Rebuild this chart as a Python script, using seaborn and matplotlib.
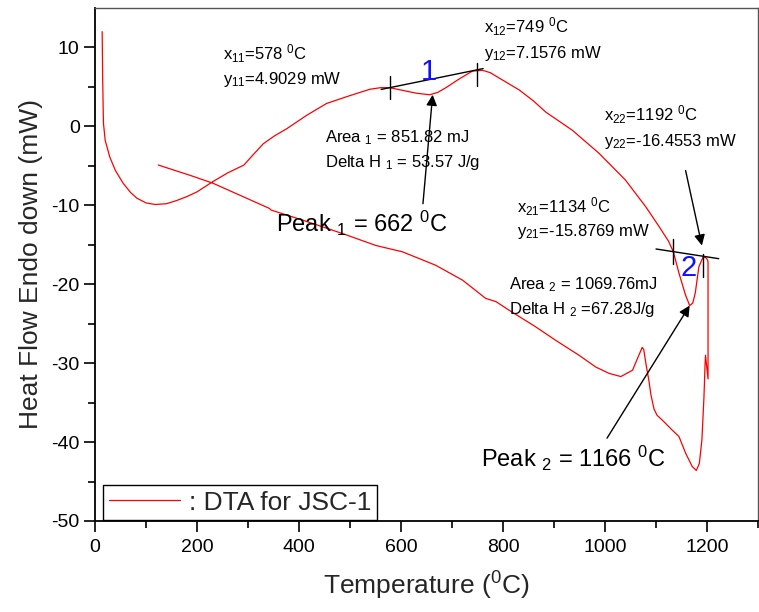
import matplotlib
matplotlib.use("Agg")
import matplotlib.pyplot as plt
import pandas as pd
import seaborn as sns

# Heating run: temperature (degC) and heat flow (mW)
heat_temp = [14, 15, 16.5, 20, 29, 40, 55, 70, 82, 100, 118, 140, 160, 180,
             200, 231, 260, 292, 310, 330, 352, 376, 415, 454, 500, 539, 560,
             578, 600, 630, 656, 672, 688, 714, 740, 760, 775, 793, 832, 860,
             884, 936, 988, 1040, 1080, 1106, 1125, 1134, 1145, 1158, 1166,
             1172, 1177, 1184, 1192, 1197, 1201, 1202, 1202]
heat_flow = [12.0, 6.0, 0.4, -1.8, -3.9, -5.6, -7.2, -8.4, -9.1, -9.7, -9.9,
             -9.8, -9.4, -8.9, -8.3, -7.0, -5.9, -4.9, -3.6, -2.2, -1.2, -0.3,
             1.4, 2.9, 3.9, 4.7, 4.9, 4.9, 4.6, 4.2, 4.0, 4.3, 4.9, 6.0, 7.0,
             7.1, 6.8, 6.1, 4.6, 3.2, 1.8, -0.5, -3.4, -6.8, -10.2, -12.7,
             -14.6, -15.9, -18.6, -21.4, -22.7, -22.4, -21.1, -17.8, -16.6,
             -16.6, -16.9, -17.2, -32.0]

# Cooling run back from the hold
cool_temp = [1197, 1196, 1194, 1190, 1185, 1179, 1171, 1158, 1145, 1132,
             1112, 1102, 1096, 1090, 1086, 1080, 1076, 1073, 1069, 1063, 1054,
             1031, 1008, 982, 949, 903, 864, 812, 786, 766, 721, 668, 603, 551,
             486, 408, 345, 342, 290, 231, 186, 124]
cool_flow = [-29.0, -30.5, -34.3, -39.7, -42.7, -43.6, -43.1, -41.4, -39.3,
             -38.5, -37.2, -36.6, -35.8, -34.0, -32.2, -30.0, -28.3, -28.0,
             -28.6, -29.5, -30.9, -31.7, -31.3, -30.5, -29.0, -27.1, -25.4,
             -23.3, -22.2, -21.8, -19.5, -17.6, -15.9, -15.1, -13.6, -11.9,
             -10.6, -10.4, -8.9, -7.2, -6.2, -4.9]

# Baseline construction points for the two events
onset_1 = (578, 4.9029)
end_1 = (749, 7.1576)
onset_2 = (1134, -15.8769)
end_2 = (1192, -16.4553)
peak_1 = (662, 4.0)
peak_2 = (1166, -22.7)

x_ticks = [0, 200, 400, 600, 800, 1000, 1200]
y_ticks = [-50, -40, -30, -20, -10, 0, 10]

sns.set_theme(style="ticks")
plt.rcParams.update({
    "font.family": ["Liberation Sans", "DejaVu Sans"],
    "mathtext.fontset": "custom",
    "mathtext.rm": "Liberation Sans",
    "mathtext.it": "Liberation Sans:italic",
    "mathtext.bf": "Liberation Sans:bold",
    "mathtext.default": "regular",
    "axes.unicode_minus": False,
})

df = pd.DataFrame({
    "Temperature": heat_temp + cool_temp,
    "HeatFlow": heat_flow + cool_flow,
})

fig = plt.figure(figsize=(7.59, 6.12), dpi=100)
ax = fig.add_axes([0.1252, 0.1487, 0.8735, 0.8383])

sns.lineplot(data=df, x="Temperature", y="HeatFlow", sort=False,
             estimator=None, color="red", lw=0.9, ax=ax,
             label=": DTA for JSC-1")

ax.set_xlim(0, 1300)
ax.set_ylim(-50, 15)
ax.set_xticks(x_ticks)
ax.set_yticks(y_ticks)
ax.set_xticks(range(100, 1301, 200), minor=True)
ax.set_yticks(range(-45, 15, 10), minor=True)
ax.tick_params(axis="both", which="major", direction="out", length=8,
               width=1.2, labelsize=14, color="black", labelcolor="black")
ax.tick_params(axis="both", which="minor", direction="out", length=5,
               width=1.2, color="black")
ax.tick_params(axis="x", which="major", pad=5)
ax.tick_params(axis="y", which="major", pad=3)

for side in ("left", "bottom"):
    ax.spines[side].set_linewidth(1.3)
    ax.spines[side].set_color("black")
for side in ("top", "right"):
    ax.spines[side].set_visible(True)
    ax.spines[side].set_linewidth(1.0)
    ax.spines[side].set_color("#555555")

ax.set_xlabel(r"Temperature ($^{0}$C)", fontsize=19, labelpad=10)
ax.set_ylabel("Heat Flow Endo down (mW)", fontsize=19, labelpad=6)


def draw_baseline(p0, p1, left_ext, right_ext, tick_up, tick_down):
    slope = (p1[1] - p0[1]) / (p1[0] - p0[0])
    xa = p0[0] - left_ext
    xb = p1[0] + right_ext
    ax.plot([xa, xb], [p0[1] - slope * left_ext, p1[1] + slope * right_ext],
            color="black", lw=1)
    for (px, py), up, dn in zip((p0, p1), tick_up, tick_down):
        ax.plot([px, px], [py + up, py - dn], color="black", lw=1)


draw_baseline(onset_1, end_1, 17, 12, (1.5, 0.9), (1.5, 2.0))
draw_baseline(onset_2, end_2, 34, 31, (1.6, 0.3), (1.6, 2.6))

small = dict(fontsize=12, color="black", ha="left", va="baseline")
ax.text(250, 8.5, r"x$_{11}$=578 $^{0}$C", **small)
ax.text(250, 5.4, r"y$_{11}$=4.9029 mW", **small)
ax.text(763, 11.9, r"x$_{12}$=749 $^{0}$C", **small)
ax.text(763, 8.7, r"y$_{12}$=7.1576 mW", **small)
ax.text(450, -2.0, r"Area $_{1}$ = 851.82 mJ", **small)
ax.text(450, -5.15, r"Delta H $_{1}$ = 53.57 J/g", **small)
ax.text(998, 0.76, r"x$_{22}$=1192 $^{0}$C", **small)
ax.text(998, -2.5, r"y$_{22}$=-16.4553 mW", **small)
ax.text(828, -10.9, r"x$_{21}$=1134 $^{0}$C", **small)
ax.text(828, -13.9, r"y$_{21}$=-15.8769 mW", **small)
ax.text(812, -20.7, r"Area $_{2}$ = 1069.76mJ", **small)
ax.text(812, -23.8, r"Delta H $_{2}$ =67.28J/g", **small)

ax.text(355, -13.4, r"Peak $_{1}$ = 662 $^{0}$C", fontsize=17,
        ha="left", va="baseline", color="black")
ax.text(757, -43.1, r"Peak $_{2}$ = 1166 $^{0}$C", fontsize=17,
        ha="left", va="baseline", color="black")

ax.text(654, 6.9, "1", fontsize=21, color="#1010ff", ha="center", va="center")
ax.text(1164, -18.0, "2", fontsize=21, color="#1010ff", ha="center", va="center")

arrow = dict(arrowstyle="-|>", color="black", lw=1, mutation_scale=16,
             shrinkA=0, shrinkB=0)
ax.annotate("", xy=peak_1, xytext=(643, -9.8), arrowprops=arrow)
ax.annotate("", xy=peak_2, xytext=(1004, -39.5), arrowprops=arrow)
ax.annotate("", xy=(1190, -15.1), xytext=(1158, -5.6), arrowprops=arrow)

leg = ax.legend(loc="lower left", bbox_to_anchor=(0.0125, 0.002),
                borderaxespad=0, fontsize=19, frameon=True, fancybox=False,
                edgecolor="black", handlelength=2.7, handletextpad=0.35,
                borderpad=0.2)
leg.get_frame().set_linewidth(1.0)
leg.get_frame().set_alpha(1)

fig.savefig("out.png", dpi=100)
